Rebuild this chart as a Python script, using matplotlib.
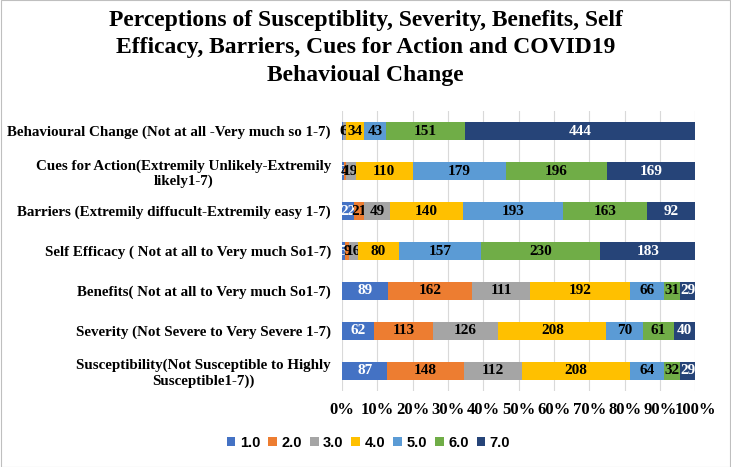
import matplotlib
matplotlib.use("Agg")
import matplotlib.pyplot as plt
import numpy as np

categories = [
    "Behavioural Change (Not at all -Very much so 1-7)",
    "Cues for Action(Extremily Unlikely-Extremily\nlikely1-7)",
    "Barriers (Extremily diffucult-Extremily easy 1-7)",
    "Self Efficacy ( Not at all to Very much So1-7)",
    "Benefits( Not at all to Very much So1-7)",
    "Severity (Not Severe to Very Severe 1-7)",
    "Susceptibility(Not Susceptible to Highly\nSusceptible1-7))",
]
series_names = ["1.0", "2.0", "3.0", "4.0", "5.0", "6.0", "7.0"]
s1 = [2, 3, 22, 5, 89, 62, 87]
s2 = [0, 4, 21, 9, 162, 113, 148]
s3 = [6, 19, 49, 16, 111, 126, 112]
s4 = [34, 110, 140, 80, 192, 208, 208]
s5 = [43, 179, 193, 157, 66, 70, 64]
s6 = [151, 196, 163, 230, 31, 61, 32]
s7 = [444, 169, 92, 183, 29, 40, 29]
series = [s1, s2, s3, s4, s5, s6, s7]
colors = ["#4472C4", "#ED7D31", "#A5A5A5", "#FFC000", "#5B9BD5", "#70AD47", "#264478"]
label_colors = ["white", "black", "black", "black", "black", "black", "white"]

serif = "Liberation Serif"
fig = plt.figure(figsize=(7.31, 4.67), dpi=100)
ax = fig.add_axes([0.468, 0.163, 0.483, 0.599])

data = np.array(series, dtype=float)
totals = data.sum(axis=0)
pct = data / totals
y = np.arange(len(categories))[::-1]
left = np.zeros(len(categories))
for i, name in enumerate(series_names):
    bars = ax.barh(y, pct[i], left=left, height=0.45, color=colors[i], label=name, zorder=3)
    ax.bar_label(bars, labels=[str(v) for v in series[i]], label_type="center",
                 color=label_colors[i], fontsize=11, fontweight="bold", family=serif)
    left += pct[i]

ax.set_xlim(0, 1)
ax.set_ylim(-0.5, len(categories) - 0.5)
ax.set_xticks(np.linspace(0, 1, 11))
ax.set_xticklabels([f"{int(round(t*100))}%" for t in np.linspace(0, 1, 11)],
                   fontsize=12, fontweight="bold", family=serif)
ax.set_yticks(y)
ax.set_yticklabels(categories, fontsize=10.8, fontweight="bold", family=serif,
                   multialignment="center")
ax.tick_params(length=0, pad=8)
ax.tick_params(axis="x", pad=8)
ax.grid(axis="x", color="#D9D9D9", linewidth=0.8, zorder=0)
for sp in ax.spines.values():
    sp.set_visible(False)

fig.text(0.5, 0.979, "Perceptions of Susceptiblity, Severity, Benefits, Self\nEfficacy, Barriers, Cues for Action and COVID19\nBehavioual Change",
         ha="center", va="top", fontsize=17, fontweight="bold", family=serif, linespacing=1.4)

leg = fig.legend(loc="center", bbox_to_anchor=(0.504, 0.052), ncol=7, frameon=False,
                 handlelength=0.6, handleheight=0.6, handletextpad=0.3, columnspacing=0.55,
                 prop={"family": "Liberation Sans", "weight": "bold", "size": 10.5})

fig.patches.append(plt.Rectangle((0.001, 0.001), 0.998, 0.998, transform=fig.transFigure,
                                 fill=False, edgecolor="#BFBFBF", linewidth=0.8))
fig.savefig("out.png", dpi=100)
